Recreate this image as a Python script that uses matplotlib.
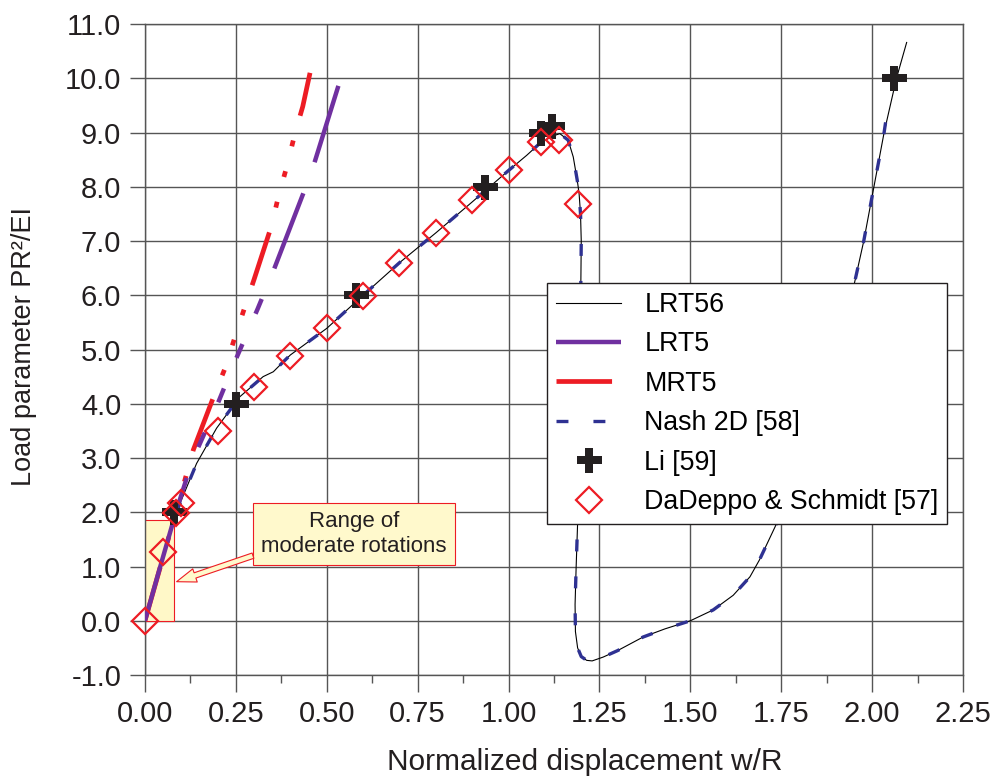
import matplotlib
matplotlib.use("Agg")
import matplotlib.pyplot as plt
from matplotlib.patches import Rectangle, FancyArrowPatch
from matplotlib.ticker import MultipleLocator, FormatStrFormatter

plt.rcParams["font.family"] = ["Liberation Sans", "DejaVu Sans"]
plt.rcParams["axes.unicode_minus"] = False
plt.rcParams["lines.scale_dashes"] = False

# LRT56 - thin black reference curve (w/R, PR^2/EI)
lrt56_x = [0.0, 0.04, 0.085, 0.142, 0.197, 0.261, 0.325, 0.353, 0.38, 0.40,
           0.50, 0.60, 0.70, 0.80, 0.90, 1.00, 1.05, 1.086, 1.12, 1.141,
           1.164, 1.178, 1.189, 1.194, 1.198, 1.200, 1.199, 1.196, 1.193, 1.19,
           1.186, 1.183, 1.184, 1.19, 1.20, 1.215, 1.23, 1.26, 1.30, 1.37,
           1.43, 1.50, 1.563, 1.618, 1.664, 1.69, 1.733, 1.78, 1.83, 1.88,
           1.944, 1.977, 2.005, 2.033, 2.067, 2.095]
lrt56_y = [0.0, 0.95, 1.98, 2.90, 3.55, 4.13, 4.50, 4.59, 4.77, 4.90,
           5.39, 6.00, 6.60, 7.15, 7.72, 8.30, 8.58, 8.80, 8.93, 8.98,
           8.86, 8.55, 8.12, 7.88, 7.50, 7.00, 6.30, 5.00, 3.50, 1.80,
           1.00, 0.30, -0.20, -0.50, -0.66, -0.73, -0.74, -0.67, -0.55, -0.30,
           -0.15, 0.00, 0.20, 0.47, 0.81, 1.12, 1.73, 2.50, 3.50, 4.60,
           6.00, 7.00, 8.00, 9.00, 10.00, 10.66]

# Nash 2D [58] - dashed blue, coincides with LRT56
nash_x = [0.085, 0.142, 0.197, 0.261, 0.325, 0.353, 0.38, 0.40, 0.50, 0.60,
          0.70, 0.80, 0.90, 1.00, 1.05, 1.086, 1.12, 1.141, 1.164, 1.178,
          1.189, 1.194, 1.198, 1.200, 1.199, 1.196, 1.193, 1.19, 1.186, 1.183,
          1.184, 1.19, 1.20, 1.215, 1.23, 1.26, 1.30, 1.37, 1.43, 1.50,
          1.563, 1.618, 1.664, 1.69, 1.733, 1.78, 1.83, 1.88, 1.944, 1.977,
          2.005, 2.033, 2.045]
nash_y = [1.98, 2.90, 3.55, 4.13, 4.50, 4.59, 4.77, 4.90, 5.39, 6.00,
          6.60, 7.15, 7.72, 8.30, 8.58, 8.80, 8.93, 8.98, 8.86, 8.55,
          8.12, 7.88, 7.50, 7.00, 6.30, 5.00, 3.50, 1.80, 1.00, 0.30,
          -0.20, -0.50, -0.66, -0.73, -0.74, -0.67, -0.55, -0.30, -0.15, 0.00,
          0.20, 0.47, 0.81, 1.12, 1.73, 2.50, 3.50, 4.60, 6.00, 7.00,
          8.00, 9.00, 9.55]

# LRT5 - purple
lrt5_x = [0.0, 0.04, 0.085, 0.13, 0.20, 0.25, 0.31, 0.355, 0.435, 0.466, 0.532]
lrt5_y = [0.0, 0.95, 2.00, 2.95, 4.00, 4.82, 5.75, 6.48, 7.87, 8.44, 9.86]

# MRT5 - red
mrt5_x = [0.0, 0.085, 0.133, 0.19, 0.22, 0.248, 0.275, 0.30, 0.348, 0.367, 0.39, 0.4125, 0.434, 0.454]
mrt5_y = [0.0, 2.00, 3.15, 4.15, 4.65, 5.24, 5.79, 6.29, 7.28, 7.82, 8.37, 8.98, 9.48, 10.10]

# Li [59]
li_x = [0.08, 0.25, 0.58, 0.935, 1.09, 1.12, 2.06]
li_y = [2.00, 4.00, 6.00, 8.00, 9.00, 9.12, 10.00]

# DaDeppo & Schmidt [57]
dd_x = [0.0, 0.05, 0.085, 0.10, 0.20, 0.30, 0.40, 0.50, 0.60, 0.70, 0.80, 0.90, 1.00, 1.09, 1.14, 1.19]
dd_y = [0.0, 1.26, 1.99, 2.18, 3.50, 4.30, 4.88, 5.40, 5.98, 6.60, 7.15, 7.76, 8.30, 8.83, 8.87, 7.68]

# moderate rotation range
range_w = 0.08
range_p = 1.86

RED = "#ED1C24"
PURPLE = "#7030A0"
BLUE = "#2E3192"
GRID = "#555555"
INK = "#231F20"

fig = plt.figure(figsize=(9.97, 7.80), dpi=100)
ax = fig.add_axes([0.1454, 0.1346, 0.8205, 0.8346])

ax.set_xlim(0, 2.25)
ax.set_ylim(-1, 11)
ax.xaxis.set_major_locator(MultipleLocator(0.25))
ax.xaxis.set_minor_locator(MultipleLocator(0.125))
ax.yaxis.set_major_locator(MultipleLocator(1.0))
ax.xaxis.set_major_formatter(FormatStrFormatter("%.2f"))
ax.yaxis.set_major_formatter(FormatStrFormatter("%.1f"))
ax.grid(True, which="major", color=GRID, lw=1.0)
ax.set_axisbelow(True)
for s in ax.spines.values():
    s.set_color(GRID)
    s.set_linewidth(1.0)
ax.tick_params(axis="x", which="major", direction="out", length=12, width=1, color=GRID,
               labelsize=21, pad=6, labelcolor=INK)
ax.tick_params(axis="x", which="minor", direction="out", length=6, width=1, color=GRID)
ax.tick_params(axis="y", which="major", direction="out", length=11, width=1, color=GRID,
               labelsize=21, pad=6, labelcolor=INK)

# shaded range + callout
ax.add_patch(Rectangle((0, 0), range_w, range_p, fc="#FFF8C8", ec=RED, lw=0.8, zorder=1.5))

ax.plot(lrt56_x, lrt56_y, color="black", lw=0.8, label="LRT56", zorder=3)
ax.plot(lrt5_x[::-1], lrt5_y[::-1], color=PURPLE, lw=3.2, label="LRT5", zorder=4,
        linestyle=(0, (57.6, 23.8, 58, 23.8, 11.5, 23.8, 10.8, 23.8, 10.8, 23.8, 11.5, 23.8, 300, 1)))
ax.plot(mrt5_x, mrt5_y, color=RED, lw=3.4, label="MRT5", zorder=3.8,
        linestyle=(0, (40, 18.5, 4.3, 18.5, 4.3, 18.5, 4.3, 18.5)))
ax.plot(nash_x, nash_y, color=BLUE, lw=2.4, label="Nash 2D [58]", zorder=5,
        linestyle=(0, (8.6, 18)))
ax.plot(li_x, li_y, linestyle="none", marker="P", ms=18, color=INK, mew=0,
        label="Li [59]", zorder=6)
ax.plot(dd_x, dd_y, linestyle="none", marker="D", ms=13.5, mfc="none", mec=RED, mew=1.6,
        label="DaDeppo & Schmidt [57]", zorder=7, clip_on=False)

ax.add_patch(Rectangle((0.297, 1.03), 0.556, 1.14, fc="#FFF9CC", ec=RED, lw=0.8, zorder=8))
ax.text(0.575, 1.6, "Range of\nmoderate rotations", ha="center", va="center",
        fontsize=16, color=INK, linespacing=1.3, zorder=9)
ax.add_patch(FancyArrowPatch((0.297, 1.2), (0.087, 0.72),
                             arrowstyle="simple,head_length=14,head_width=10,tail_width=4",
                             mutation_scale=1, shrinkA=0, shrinkB=0,
                             fc="#FFF9CC", ec=RED, lw=0.8, zorder=8))

leg = ax.legend(loc="upper left", bbox_to_anchor=(0.4914, 0.602), borderaxespad=0,
                fontsize=19.3, handlelength=2.45, handletextpad=0.85, borderpad=0.33,
                labelspacing=0.5, numpoints=1, fancybox=False, framealpha=1,
                edgecolor=INK)
leg.get_frame().set_linewidth(1.0)
leg.set_zorder(10)

ax.set_xlabel("Normalized displacement w/R", fontsize=21.5, color=INK)
ax.xaxis.set_label_coords(0.538, -0.112)
ax.set_ylabel("Load parameter PR²/EI", fontsize=19.5, color=INK)
ax.yaxis.set_label_coords(-0.132, 0.505)

fig.savefig("out.png", dpi=100)
